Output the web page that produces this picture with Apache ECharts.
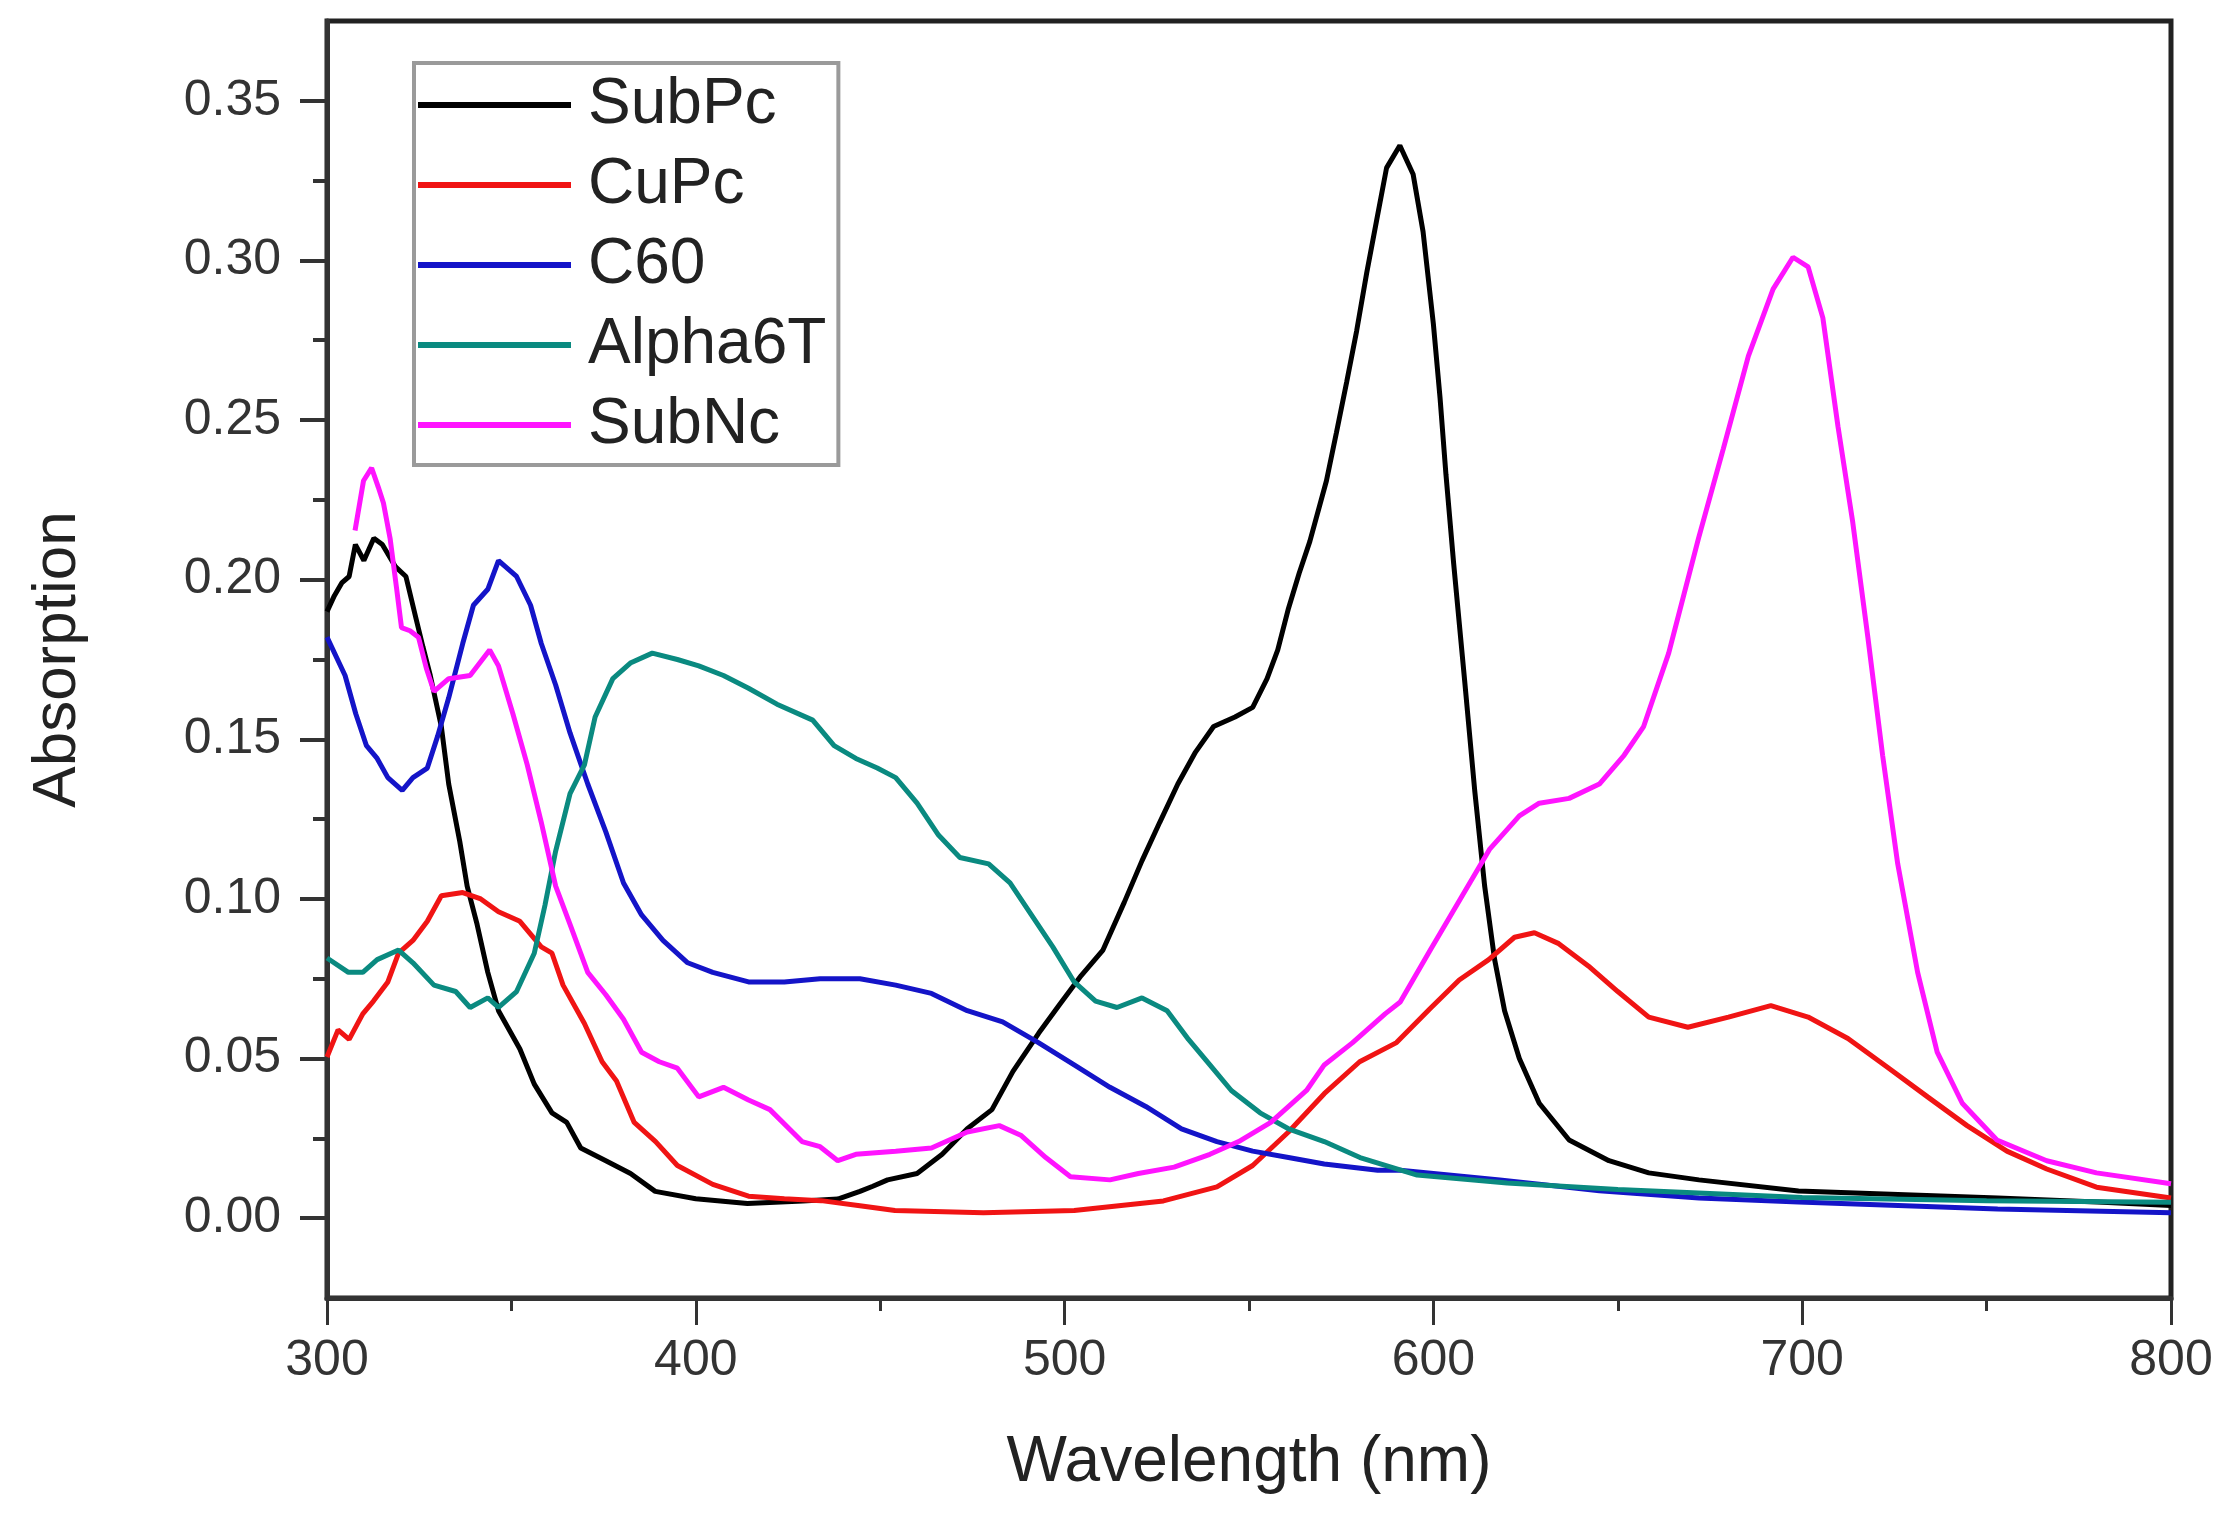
<!DOCTYPE html>
<html><head><meta charset="utf-8">
<script src="https://cdn.jsdelivr.net/npm/echarts@6/dist/echarts.min.js"></script>
<style>html,body{margin:0;padding:0;background:#fff}#c{width:2237px;height:1533px}</style>
</head><body><div id="c"></div>
<script>
const seriesNames = ['SubPc','CuPc','C60','Alpha6T','SubNc'];
const seriesColors = ['#000000','#f01414','#1414c8','#0a8a80','#ff14ff'];
const xTickLabels = [300,400,500,600,700,800];
const yTickLabels = [0,0.05,0.10,0.15,0.20,0.25,0.30,0.35];
const yMinorTicks = [0.025,0.075,0.125,0.175,0.225,0.275,0.325];

const subPc = [[300,0.190],[302,0.195],[304,0.199],[306,0.201],[307.7,0.211],[310,0.206],[312.7,0.213],[315,0.211],[318.6,0.204],[321.4,0.201],[324.1,0.188],[326,0.179],[328,0.170],[331,0.154],[333,0.136],[336,0.118],[338,0.104],[340.7,0.092],[343.6,0.077],[346.5,0.065],[352.3,0.053],[356.2,0.042],[361,0.033],[365,0.030],[368.8,0.022],[375.6,0.018],[382.3,0.014],[389,0.0084],[400,0.0061],[414,0.0046],[429,0.0054],[438.5,0.006],[444.5,0.0084],[448,0.010],[452,0.012],[460,0.014],[466.8,0.020],[473.6,0.028],[480.3,0.034],[486,0.046],[493,0.058],[498.7,0.067],[504.5,0.076],[510.4,0.084],[516.2,0.099],[521,0.112],[525.8,0.124],[530.7,0.136],[535.5,0.146],[540.4,0.154],[546.2,0.157],[551,0.160],[554.9,0.169],[557.8,0.178],[560.7,0.191],[563.6,0.202],[566.5,0.212],[571,0.231],[573.7,0.246],[576.5,0.262],[579.2,0.278],[581.9,0.296],[584.6,0.3125],[587.3,0.329],[590.9,0.336],[594.5,0.327],[597.2,0.309],[600,0.280],[601.8,0.257],[603.4,0.233],[605.5,0.205],[608.5,0.168],[611.2,0.134],[613.9,0.104],[616.6,0.081],[619.3,0.065],[623.3,0.050],[628.7,0.036],[636.8,0.0245],[647.6,0.018],[658.4,0.0142],[672,0.012],[699,0.0085],[726,0.0074],[753,0.0063],[780,0.0051],[800,0.004]];

const cuPc = [[300,0.0505],[303,0.059],[306,0.056],[309.7,0.064],[312.6,0.068],[316.5,0.074],[319.4,0.083],[323.3,0.087],[327.2,0.093],[331,0.101],[336.8,0.102],[341.7,0.100],[346.5,0.096],[352.3,0.093],[358.1,0.085],[361,0.083],[364,0.073],[369.8,0.061],[374.6,0.049],[378.5,0.043],[383.3,0.030],[389.1,0.024],[395,0.0165],[404.6,0.0106],[414.3,0.0069],[424,0.0061],[434,0.0055],[444.5,0.0039],[454,0.0024],[478,0.0017],[502.6,0.0024],[526.8,0.0054],[541.3,0.0098],[551,0.0165],[560.7,0.027],[570.4,0.039],[580,0.049],[590,0.055],[599,0.0655],[607,0.0746],[615,0.081],[622,0.088],[627.4,0.0894],[634,0.086],[642,0.079],[650,0.071],[658.4,0.063],[669,0.0598],[680,0.063],[691.5,0.0666],[701.6,0.063],[712.4,0.0563],[723.2,0.0472],[734,0.038],[744.7,0.029],[755.5,0.021],[766.3,0.0154],[779.8,0.0097],[800,0.0063]];

const c60 = [[300,0.182],[304.9,0.170],[307.8,0.158],[310.7,0.148],[313.6,0.144],[316.5,0.138],[320.4,0.134],[323.3,0.138],[327.2,0.141],[330,0.151],[333,0.163],[336.8,0.180],[339.7,0.192],[343.6,0.197],[346.5,0.206],[351.4,0.201],[355.2,0.192],[358.1,0.180],[362,0.167],[365.9,0.152],[370.7,0.136],[375.6,0.121],[380.4,0.105],[385.3,0.095],[391.1,0.087],[397.8,0.080],[404.6,0.077],[414.3,0.074],[424,0.074],[433.7,0.075],[444.5,0.075],[454.2,0.073],[463.9,0.0704],[473.6,0.065],[483.2,0.0615],[492.9,0.055],[502.6,0.048],[512.3,0.041],[522,0.035],[531.7,0.028],[541.3,0.024],[551,0.021],[560.7,0.019],[570.4,0.017],[584.9,0.015],[591,0.015],[618,0.012],[645,0.0086],[672,0.0063],[699,0.0051],[726,0.004],[753,0.0029],[800,0.0017]];

const alpha6T = [[300,0.0815],[305.8,0.077],[309.7,0.077],[313.6,0.081],[319.4,0.084],[323.3,0.080],[329,0.073],[334.9,0.071],[338.8,0.066],[343.6,0.069],[346.5,0.066],[351.4,0.071],[356.2,0.083],[359.1,0.098],[362,0.115],[365.9,0.133],[369.8,0.142],[372.7,0.157],[377.5,0.169],[382.4,0.174],[388.2,0.177],[395,0.175],[400.8,0.173],[407.5,0.170],[414.3,0.166],[422,0.161],[431.7,0.156],[437.5,0.148],[443.4,0.144],[449.2,0.141],[454.2,0.138],[460,0.130],[465.8,0.120],[471.6,0.113],[479.4,0.111],[485.2,0.105],[491,0.095],[496.8,0.085],[502.6,0.074],[508.4,0.068],[514.2,0.066],[521,0.069],[527.8,0.065],[533.6,0.056],[539.4,0.048],[545.2,0.040],[553,0.033],[560.7,0.028],[570.4,0.024],[580.1,0.019],[595.6,0.0135],[620,0.011],[650,0.009],[700,0.0065],[750,0.0055],[800,0.005]];

const subNc = [[307.6,0.2154],[309.9,0.231],[312.1,0.235],[313.9,0.229],[315.3,0.224],[317.1,0.213],[318.9,0.197],[320.2,0.185],[322.5,0.184],[324.8,0.182],[327,0.172],[329,0.165],[333,0.169],[338.8,0.170],[344.1,0.178],[346.5,0.173],[350.4,0.158],[354.3,0.142],[358.1,0.124],[362,0.104],[365.9,0.092],[370.7,0.077],[375.6,0.070],[380.4,0.0623],[385.3,0.052],[390.1,0.049],[395,0.047],[400.8,0.038],[407.5,0.041],[414.3,0.037],[420.1,0.034],[428.8,0.024],[433.7,0.0224],[438.5,0.018],[443.4,0.020],[454.2,0.021],[463.9,0.022],[473.6,0.027],[482.3,0.029],[488.1,0.026],[494.9,0.019],[501.6,0.013],[512.3,0.012],[520,0.014],[529.7,0.016],[539.4,0.020],[547.2,0.024],[555.9,0.030],[565.6,0.040],[570.4,0.048],[578.1,0.055],[586.9,0.064],[591,0.0677],[599,0.0837],[607.1,0.0996],[615.2,0.1155],[623.3,0.126],[628.7,0.130],[636.8,0.1315],[645,0.136],[651.7,0.145],[657,0.154],[663.8,0.177],[671.9,0.213],[678.6,0.241],[685.4,0.270],[692.1,0.291],[697.5,0.301],[701.6,0.298],[705.6,0.282],[709.7,0.248],[713.7,0.218],[717.8,0.182],[721.8,0.145],[725.9,0.111],[731.3,0.077],[736.6,0.052],[743.4,0.036],[752.8,0.0245],[766.3,0.018],[779.8,0.0142],[800,0.0108]];

const seriesData = [subPc, cuPc, c60, alpha6T, subNc];
const FONT = '"Liberation Sans", Arial, sans-serif';

const chart = echarts.init(document.getElementById('c'));
const axisLineStyle = {color:'#333', width:5};
chart.setOption({
  animation:false,
  backgroundColor:'#fff',
  grid:{left:327, right:66, top:21, bottom:235, show:true, borderColor:'#222', borderWidth:5},
  legend:{
    orient:'vertical', left:414, top:63,
    data: seriesNames,
    borderColor:'#9a9a9a', borderWidth:4,
    padding:[10,12,8,4],
    itemWidth:153, itemHeight:6, itemGap:16,
    icon:'rect',
    textStyle:{fontFamily:FONT, fontSize:64, color:'#222', lineHeight:60, padding:[0,0,0,12]}
  },
  xAxis:[{
    type:'value', min:300, max:800, interval:50, position:'bottom',
    axisLine:{show:true, onZero:false, lineStyle:axisLineStyle},
    axisTick:{show:true, inside:false, length:13, lineStyle:{color:'#333', width:3}},
    axisLabel:{customValues:xTickLabels, fontFamily:FONT, fontSize:50, color:'#333', margin:38},
    splitLine:{show:false},
    name:'Wavelength (nm)', nameLocation:'middle', nameGap:133,
    nameTextStyle:{fontFamily:FONT, fontSize:64, color:'#222'}
  },{
    type:'value', min:300, max:800, interval:100, position:'bottom',
    axisLine:{show:false, onZero:false},
    axisTick:{show:true, inside:false, length:27, lineStyle:{color:'#333', width:3}},
    axisLabel:{show:false}, splitLine:{show:false}
  }],
  yAxis:[{
    type:'value', min:-0.025, max:0.375, position:'left',
    axisLine:{show:true, onZero:false, lineStyle:axisLineStyle},
    axisTick:{show:true, inside:false, length:27, customValues:yTickLabels, lineStyle:{color:'#333', width:4}},
    axisLabel:{customValues:yTickLabels, fontFamily:FONT, fontSize:50, color:'#333', margin:46,
      formatter:v=>v.toFixed(2)},
    splitLine:{show:false},
    name:'Absorption', nameLocation:'middle', nameGap:238,
    nameTextStyle:{fontFamily:FONT, fontSize:62, color:'#222'}
  },{
    type:'value', min:-0.025, max:0.375, position:'left',
    axisLine:{show:false, onZero:false},
    axisTick:{show:true, inside:false, length:14, customValues:yMinorTicks, lineStyle:{color:'#333', width:4}},
    axisLabel:{show:false}, splitLine:{show:false}
  }],
  series: seriesNames.map((n,i)=>({
    name:n, type:'line', data:seriesData[i], showSymbol:false, symbol:'none',
    xAxisIndex:0, yAxisIndex:0,
    lineStyle:{color:seriesColors[i], width:5}, itemStyle:{color:seriesColors[i]},
    smooth:false, clip:true
  }))
});
</script></body></html>
